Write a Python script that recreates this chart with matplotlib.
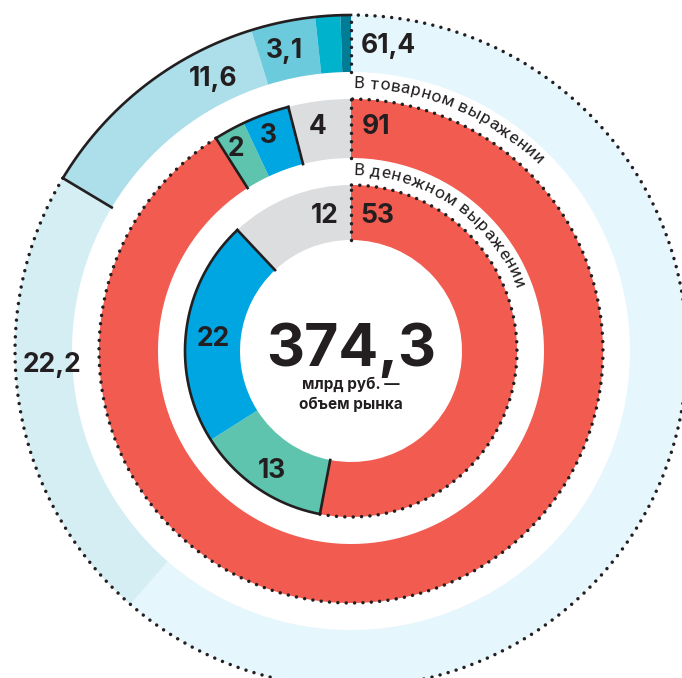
import numpy as np
import matplotlib.pyplot as plt
from matplotlib.font_manager import FontProperties
from matplotlib.textpath import TextToPath

# --- data ---
outer_vals = [61.4, 22.2, 11.6, 3.1, 1.2, 0.5]
outer_labels = ['61,4', '22,2', '11,6', '3,1']
outer_colors = ['#e6f6fd', '#d5eef4', '#acdfea', '#6bcadc', '#00b2cc', '#007c97']

mid_vals = [91, 2, 3, 4]
mid_labels = ['91', '2', '3', '4']
inner_vals = [53, 13, 22, 12]
inner_labels = ['53', '13', '22', '12']
ring_colors = ['#f15b50', '#5ec4ad', '#00a6e2', '#dcdddf']

total_text = '374,3'
total_sub = ['млрд руб. —', 'объем рынка']
mid_title = 'В товарном выражении'
inner_title = 'В денежном выражении'

# --- layout (pixels) ---
W, H = 682, 678
cx, cy = 351, H - 351
r_outer = (336, 279)
r_mid = (252, 193)
r_inner = (166, 111)
INK = '#231f20'
BOLD = dict(family=['Inter', 'DejaVu Sans'], fontweight='bold', color=INK)

# label positions: angle clockwise from top (deg), radius
outer_pos = [(7, 310), (267.7, 299), (333.3, 307), (347.5, 310)]
mid_pos = [(6.3, 228), (330.7, 235), (339.2, 233), (351.7, 229)]
inner_pos = [(11, 140), (213.8, 142), (276, 139), (349, 140)]

dotted = dict(color=INK, lw=2.5, linestyle=(0, (0.01, 2.4)), dash_capstyle='round')
solid = dict(color=INK, lw=1.9, solid_capstyle='projecting')

fig = plt.figure(figsize=(W / 100, H / 100), dpi=100)
ax = fig.add_axes([0, 0, 1, 1])


def ring(vals, colors, radii):
    wedges, _ = ax.pie(vals, radius=radii[0], center=(cx, cy), startangle=90,
                       counterclock=False, colors=colors,
                       wedgeprops=dict(width=radii[0] - radii[1], linewidth=0))
    return wedges


def arc(r, t1, t2, **kw):
    t = np.radians(np.linspace(t1, t2, 300))
    ax.plot(cx + r * np.cos(t), cy + r * np.sin(t), **kw)


def radial(t, radii, **kw):
    t = np.radians(t)
    ax.plot([cx + radii[1] * np.cos(t), cx + radii[0] * np.cos(t)],
            [cy + radii[1] * np.sin(t), cy + radii[0] * np.sin(t)], **kw)


def polar(a, r):
    a = np.radians(a)
    return cx + r * np.sin(a), cy + r * np.cos(a)


def label(text, a, r, size):
    x, y = polar(a, r)
    ax.text(x, y - 0.36 * size * 100 / 72, text, ha='center', va='baseline',
            fontsize=size, **BOLD)


# outer ring: first two slices dotted, the small rest outlined solid
w = ring(outer_vals, outer_colors, r_outer)
arc(r_outer[0], w[5].theta1, w[2].theta2, **solid)
radial(w[2].theta2, r_outer, **solid)
arc(r_outer[0], w[1].theta1, w[0].theta2, **dotted)
radial(w[0].theta2, r_outer, **dotted)

# middle and inner rings
for vals, radii in [(mid_vals, r_mid), (inner_vals, r_inner)]:
    w = ring(vals, ring_colors, radii)
    arc(radii[0], w[2].theta1, w[1].theta2, **solid)
    radial(w[1].theta2, radii, **solid)
    radial(w[2].theta1, radii, **solid)
    arc(radii[0], w[0].theta1, w[0].theta2, **dotted)
    radial(w[0].theta2, radii, **dotted)

for labels, pos in [(outer_labels, outer_pos), (mid_labels, mid_pos), (inner_labels, inner_pos)]:
    for t, (a, r) in zip(labels, pos):
        label(t, a, r, 19)

# centre
ax.text(cx, H - 366, total_text, ha='center', va='baseline', fontsize=42.5, **BOLD)
ax.text(cx, H - 389, total_sub[0], ha='center', va='baseline', fontsize=11, **BOLD)
ax.text(cx, H - 409, total_sub[1], ha='center', va='baseline', fontsize=11, **BOLD)

# curved titles
ttp = TextToPath()


def curved(text, r, start, size, track=0.0):
    fp = FontProperties(family='Roboto', size=size)
    ws = [0.0] + [ttp.get_text_width_height_descent(text[:i], fp, ismath=False)[0] * 100 / 72
                  + track * i for i in range(1, len(text) + 1)]
    for i, ch in enumerate(text):
        if ch == ' ':
            continue
        a = start + np.degrees((ws[i] + ws[i + 1]) / 2 / r)
        x, y = polar(a, r)
        ax.text(x, y, ch, ha='center', va='baseline', rotation=-a,
                rotation_mode='anchor', fontproperties=fp, color=INK)


curved(mid_title, 263, 0.6, 12.5, track=0.5)
curved(inner_title, 176, 0.6, 12.5, track=0.6)

ax.set_xlim(0, W)
ax.set_ylim(0, H)
ax.set_aspect('equal')
ax.axis('off')
fig.savefig('out.png', dpi=100)
